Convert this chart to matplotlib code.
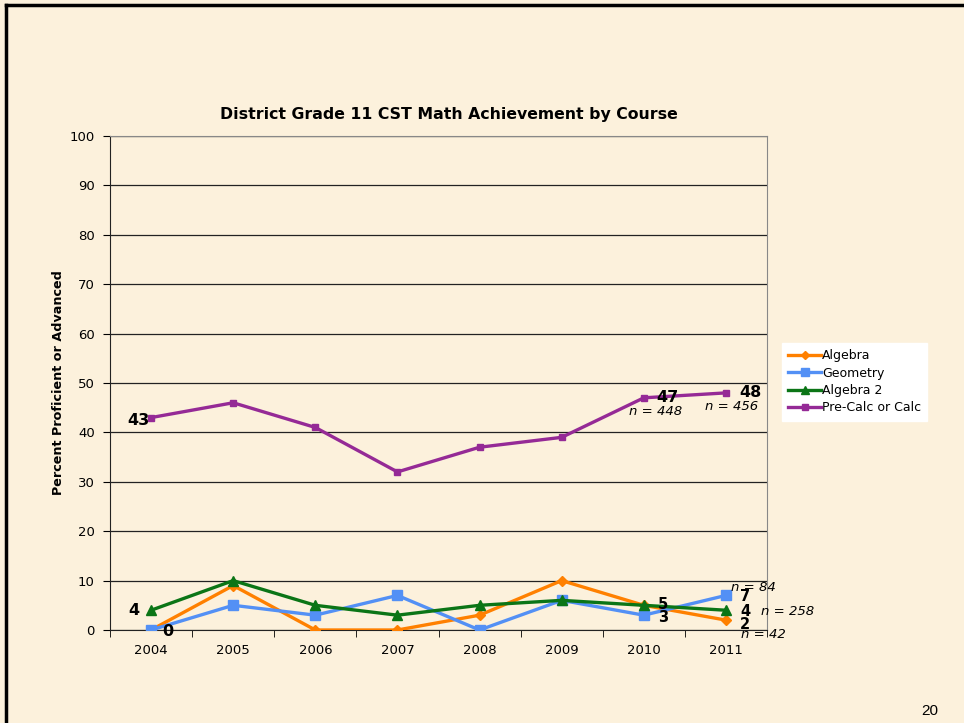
import matplotlib
matplotlib.use("Agg")
import matplotlib.pyplot as plt
from matplotlib.lines import Line2D

########## data
years       = ["2004", "2005", "2006", "2007", "2008", "2009", "2010", "2011"]
algebra     = [0, 9, 0, 0, 3, 10, 5, 2]
geometry    = [0, 5, 3, 7, 0, 6, 3, 7]
algebra2    = [4, 10, 5, 3, 5, 6, 5, 4]
precalc     = [43, 46, 41, 32, 37, 39, 47, 48]
yticks      = [0, 10, 20, 30, 40, 50, 60, 70, 80, 90, 100]

########## style
bg = "#fcf1dc"
series = [
    ("Algebra", algebra, "#ff8000", "D", 5),
    ("Geometry", geometry, "#5390f5", "s", 7),
    ("Algebra 2", algebra2, "#0b7516", "^", 7),
    ("Pre-Calc or Calc", precalc, "#952a96", "s", 5),
]

fig = plt.figure(figsize=(9.64, 7.23), dpi=100)
fig.set_facecolor(bg)
ax = fig.add_axes([110/964, 1-630/723, 657/964, 494/723])
ax.set_facecolor(bg)

x = list(range(len(years)))
for name, vals, col, mk, ms in series:
    ax.plot(x, vals, color=col, lw=2.4, marker=mk, markersize=ms, label=name, zorder=3)

ax.set_xlim(-0.5, len(years) - 0.5)
ax.set_ylim(0, 100)
ax.set_yticks(yticks)
ax.yaxis.grid(True, color="#222222", lw=0.9)
ax.set_axisbelow(True)
ax.set_xticks(x)
ax.set_xticklabels(years)
ax.set_xticks([i - 0.5 for i in range(len(years) + 1)], minor=True)
ax.tick_params(axis="x", which="major", length=0, labelsize=9.5, pad=10)
ax.tick_params(axis="x", which="minor", length=5, direction="out")
ax.tick_params(axis="y", length=5, labelsize=9.5, pad=6)
for s in ["top", "right"]:
    ax.spines[s].set_color("#888888")
ax.spines["left"].set_color("#222222")
ax.spines["bottom"].set_color("#222222")

ax.set_title("District Grade 11 CST Math Achievement by Course",
             fontsize=11.3, fontweight="bold", pad=12, x=0.516)
ax.set_ylabel("Percent Proficient or Advanced", fontsize=9.2, fontweight="bold", labelpad=3)

########## value labels
bold = dict(fontsize=11.5, fontweight="bold", va="center", textcoords="offset pixels")
small = dict(bold, fontsize=10.5)
ital = dict(fontsize=9.5, style="italic", va="center", textcoords="offset pixels")

ax.annotate(str(precalc[0]), (0, precalc[0]), xytext=(-1, -3), ha="right", **bold)
ax.annotate(str(geometry[0]), (0, geometry[0]), xytext=(11, -2), ha="left", **bold)
ax.annotate(str(algebra2[0]), (0, algebra2[0]), xytext=(-12, 0), ha="right", **bold)

ax.annotate(str(precalc[6]), (6, precalc[6]), xytext=(12, 0), ha="left", **bold)
ax.annotate("n = 448", (6, precalc[6]), xytext=(12, -14), ha="center", **ital)
ax.annotate(str(precalc[7]), (7, precalc[7]), xytext=(13, 0), ha="left", **bold)
ax.annotate("n = 456", (7, precalc[7]), xytext=(6, -14), ha="center", **ital)

# crowded low values at 2010 / 2011
ax.annotate(str(algebra2[6]), (6, algebra2[6]), xytext=(14, 1), ha="left", **small)
ax.annotate(str(geometry[6]), (6, geometry[6]), xytext=(14, -2), ha="left", **small)

ax.annotate(str(geometry[7]), (7, geometry[7]), xytext=(14, -1), ha="left", **small)
ax.annotate(str(algebra2[7]), (7, algebra2[7]), xytext=(14, -1), ha="left", **small)
ax.annotate(str(algebra[7]), (7, algebra[7]), xytext=(14, -4), ha="left", **small)

ax.annotate("n = 84", (7, geometry[7]), xytext=(5, 8), ha="left", **ital)
ax.annotate("n = 258", (7, algebra2[7]), xytext=(35, -1), ha="left", **ital)
ax.annotate("n = 42", (7, algebra[7]), xytext=(15, -14), ha="left", **ital)

########## legend
leg = fig.legend(loc="upper left", bbox_to_anchor=(782/964, 1-343/723), fontsize=9,
                 frameon=True, fancybox=False, borderaxespad=0, handlelength=2.6,
                 handletextpad=0.1, labelspacing=0.35, borderpad=0.5, markerscale=0.75)
leg.get_frame().set_facecolor("white")
leg.get_frame().set_edgecolor("white")
leg.get_frame().set_alpha(1)

########## slide frame and page number
fig.add_artist(Line2D([6/964, 1], [1-5/723, 1-5/723], color="black", lw=2.5))
fig.add_artist(Line2D([6/964, 6/964], [0, 1-5/723], color="black", lw=2.5))
fig.text(930/964, 1-711/723, "20", fontsize=11, family="Liberation Sans", ha="center", va="center")

plt.savefig("out.png", dpi=100, facecolor=bg)
